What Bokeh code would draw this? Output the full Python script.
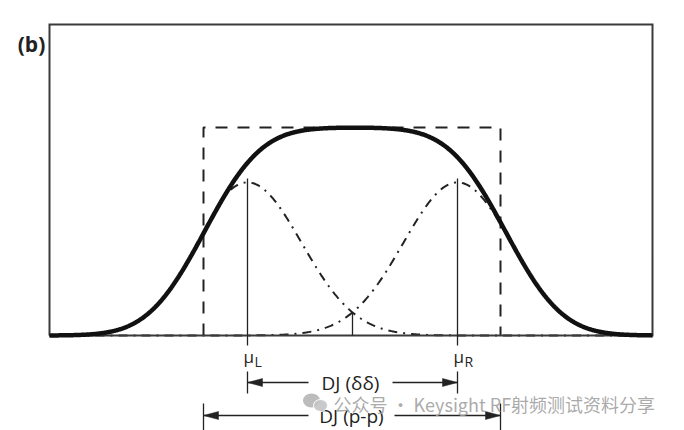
import math
import numpy as np
from bokeh.plotting import figure
from bokeh.models import Range1d
from bokeh.core.properties import value
from bokeh.embed import file_html
from bokeh.resources import INLINE

# ---- values (x in page pixels, y as amplitude) ----
frame_x = [49, 652]            # plot frame left / right
frame_top = 1.495              # frame top (amplitude units, box height = 1)
dj_box = [203, 500]            # DJ (p-p) dashed box edges
box_height = [1.0]
total_edges = [204, 505]       # half-height points of the total (solid) curve
sigma_total = [45]             # edge width of the total curve
dirac_mu = [247, 457]          # μL, μR
dirac_peak = [0.736, 0.736]    # dash-dot gaussian peak heights
sigma_rj = [54]                # width of dash-dot gaussians
crossing_x = [352]
crossing_y = [0.11]
mu_labels = ["L", "R"]
arrow_labels = ["DJ (δδ)", "DJ (p-p)"]
panel_label = "(b)"
watermark = "公众号 · Keysight RF射频测试资料分享"

# ---- geometry helpers ----
BASE_PX = 335.0
SCALE = 208.0
def amp(px):
    return (BASE_PX - px) / SCALE

W, H = 684, 430
p = figure(width=W, height=H, output_backend="svg", toolbar_location=None,
           x_range=Range1d(0, W), y_range=Range1d(amp(H), amp(0)),
           min_border=0, outline_line_color=None)
p.xaxis.visible = False
p.yaxis.visible = False
p.grid.visible = False
p.background_fill_color = "white"
p.border_fill_color = "white"

x = np.linspace(frame_x[0], frame_x[1], 900)

def Phi(z):
    return 0.5 * (1 + np.array([math.erf(v / math.sqrt(2)) for v in z]))

total = box_height[0] * (Phi((x - total_edges[0]) / sigma_total[0]) - Phi((x - total_edges[1]) / sigma_total[0]))
for mu, pk in zip(dirac_mu, dirac_peak):
    g = pk * np.exp(-(x - mu) ** 2 / (2 * sigma_rj[0] ** 2))
    # outer flank runs under the total curve (hidden by it), as in the figure
    g = np.minimum(g, total)
    p.line(x, g, line_color="#222222", line_width=2, line_dash="9 6 2 6")

# dashed DJ box
p.line([dj_box[0], dj_box[0], dj_box[1], dj_box[1]], [0, box_height[0], box_height[0], 0],
       line_color="#222222", line_width=2, line_dash="12 10")

# frame
p.line([frame_x[0], frame_x[1], frame_x[1], frame_x[0], frame_x[0]],
       [0, 0, frame_top, frame_top, 0], line_color="#3a3a3a", line_width=2, line_join="miter")

# total curve
p.line(x, total, line_color="#111111", line_width=4.5)

# vertical markers at mu
for mu in dirac_mu:
    p.segment(x0=[mu], y0=[amp(178)], x1=[mu], y1=[amp(345)], line_color="#222222", line_width=1.3)
p.segment(x0=crossing_x, y0=crossing_y, x1=crossing_x, y1=[0], line_color="#222222", line_width=1.3)

# mu labels
for mu, sub in zip(dirac_mu, mu_labels):
    p.text(x=[mu - 4], y=[amp(356)], text=["μ"], text_font=value("Open Sans"),
           text_font_size="17px", text_color="#222222", text_baseline="middle", text_align="left")
    p.text(x=[mu + 7], y=[amp(361)], text=[sub], text_font=value("Open Sans"),
           text_font_size="14px", text_color="#222222", text_baseline="middle", text_align="left")

# dimension arrows
def dim_arrow(xl, xr, ypx, label, tl, tr, bar_top, bar_bot):
    yy = amp(ypx)
    p.segment(x0=[xl, xr], y0=[amp(bar_top)] * 2, x1=[xl, xr], y1=[amp(bar_bot)] * 2,
              line_color="#222222", line_width=1.3)
    p.segment(x0=[xl, tr], y0=[yy, yy], x1=[tl, xr], y1=[yy, yy], line_color="#222222", line_width=1.5)
    hl, hw = 15, 4.0 / SCALE
    p.patches(xs=[[xl, xl + hl, xl + hl], [xr, xr - hl, xr - hl]],
              ys=[[yy, yy + hw, yy - hw], [yy, yy + hw, yy - hw]],
              fill_color="#222222", line_color="#222222", line_width=0.5)
    p.text(x=[(tl + tr) / 2], y=[yy], text=[label], text_font=value("Open Sans"),
           text_font_size="19px", text_color="#222222", text_baseline="middle", text_align="center")

dim_arrow(dirac_mu[0], dirac_mu[1], 382, arrow_labels[0], 308, 392, 371, 393)
dim_arrow(dj_box[0], dj_box[1], 415, arrow_labels[1], 308, 394, 403, 430)

# panel label
p.text(x=[31], y=[amp(43)], text=[panel_label], text_font=value("Open Sans"),
       text_font_size="21px", text_font_style="bold", text_color="#222222",
       text_baseline="middle", text_align="center")

# watermark
p.ellipse(x=[311], y=[amp(400)], width=17, height=14 / SCALE, fill_color="#b5b5b5", line_color=None, fill_alpha=0.9)
p.ellipse(x=[320], y=[amp(405)], width=14, height=12 / SCALE, fill_color="#c4c4c4", line_color="white", line_width=1, fill_alpha=0.9)
p.text(x=[333], y=[amp(403)], text=[watermark], text_font=value("Noto Sans CJK SC"),
       text_font_size="18px", text_color="#a0a0a0", text_alpha=0.9,
       text_baseline="middle", text_align="left")

open("out.html", "w").write(file_html(p, INLINE))
